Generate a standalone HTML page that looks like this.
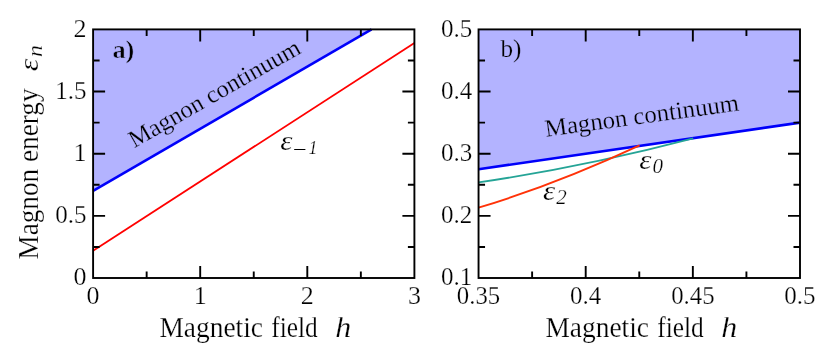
<!DOCTYPE html>
<html><head><meta charset="utf-8"><title>Magnon energy</title>
<style>
html,body{margin:0;padding:0;background:#fff;}
svg{display:block;will-change:transform;}
text{font-family:"Liberation Serif",serif;fill:#000;stroke:#fff;stroke-width:0.25px;}
.ob{stroke:#b3b3ff;}
.tk{font-size:26px;}
.lb{font-size:26px;}
.ax{font-size:30px;}
.ep{font-size:28px;font-style:italic;}
.an{font-size:24.5px;}
.it{font-style:italic;}
.bd{font-weight:bold;font-size:24.5px;}
.sb{font-size:20px;}
</style></head><body>
<svg width="830" height="355" viewBox="0 0 830 355">
<rect width="830" height="355" fill="#fff"/>
<path d="M93.1 190.99L371.56 29.4L93.1 29.4Z" fill="#b3b3ff"/>
<path d="M93.1 190.99L371.56 29.4" stroke="#0000fa" stroke-width="2.6" fill="none"/>
<path d="M93.1 250.65L414.4 43.07" stroke="#ff0000" stroke-width="1.8" fill="none"/>
<path d="M200.20 278.0v-12M200.20 29.4v12M307.30 278.0v-12M307.30 29.4v12M146.65 278.0v-6.5M146.65 29.4v6.5M253.75 278.0v-6.5M253.75 29.4v6.5M360.85 278.0v-6.5M360.85 29.4v6.5M93.1 215.85h12M414.4 215.85h-12M93.1 153.70h12M414.4 153.70h-12M93.1 91.55h12M414.4 91.55h-12M93.1 246.93h6.5M414.4 246.93h-6.5M93.1 184.78h6.5M414.4 184.78h-6.5M93.1 122.62h6.5M414.4 122.62h-6.5M93.1 60.47h6.5M414.4 60.47h-6.5" stroke="#000" stroke-width="1.9" fill="none"/>
<rect x="93.1" y="29.4" width="321.29999999999995" height="248.6" fill="none" stroke="#000" stroke-width="1.9"/>
<text class="tk" x="86.5" y="285.40" text-anchor="end">0</text>
<text class="tk" x="86.5" y="223.25" text-anchor="end" textLength="31.3" lengthAdjust="spacingAndGlyphs">0.5</text>
<text class="tk" x="86.5" y="161.10" text-anchor="end">1</text>
<text class="tk" x="86.5" y="98.95" text-anchor="end" textLength="31.3" lengthAdjust="spacingAndGlyphs">1.5</text>
<text class="tk" x="86.5" y="36.80" text-anchor="end">2</text>
<text class="tk" x="93.10" y="303.5" text-anchor="middle">0</text>
<text class="tk" x="200.20" y="303.5" text-anchor="middle">1</text>
<text class="tk" x="307.30" y="303.5" text-anchor="middle">2</text>
<text class="tk" x="414.40" y="303.5" text-anchor="middle">3</text>
<text class="ax" x="159.5" y="336.5" textLength="103.5" lengthAdjust="spacingAndGlyphs">Magnetic</text>
<text class="ax" x="271.3" y="336.5" textLength="46.5" lengthAdjust="spacingAndGlyphs">field</text>
<text class="lb it" x="335.3" y="336.5" textLength="16" style="font-size:29px" lengthAdjust="spacingAndGlyphs">h</text>
<text class="ax" transform="translate(37.7,259.5) rotate(-90)" textLength="171" lengthAdjust="spacingAndGlyphs">Magnon energy</text>
<text class="ep" transform="translate(37.7,71.3) rotate(-90)" textLength="12.5" lengthAdjust="spacingAndGlyphs">ε</text>
<text class="sb it" transform="translate(41.6,57) rotate(-90)" textLength="12" lengthAdjust="spacingAndGlyphs">n</text>
<text class="bd ob" x="112.4" y="57.5" textLength="22" style="stroke-width:.5px" lengthAdjust="spacingAndGlyphs">a)</text>
<text class="an ob" transform="translate(134.2,148.3) rotate(-29.7)" textLength="193.5" lengthAdjust="spacingAndGlyphs">Magnon continuum</text>
<text class="ep" x="280.3" y="150" textLength="12.2" lengthAdjust="spacingAndGlyphs">ε</text>
<path d="M294.2 149.5H305.4" stroke="#000" stroke-width="1" fill="none"/>
<text class="sb it" x="308.5" y="154" style="font-size:18px">1</text>
<path d="M478.55 169.24L800 122.63L800 29.4L478.55 29.4Z" fill="#b3b3ff"/>
<path d="M478.55 169.24L800 122.63" stroke="#0000fa" stroke-width="2.6" fill="none"/>
<path d="M478.55 182.4Q585 166.6 693.2 138.3" stroke="#25a496" stroke-width="1.8" fill="none"/>
<path d="M478.55 207.7Q556.7 184.2 639.6 145.4" stroke="#ff3208" stroke-width="1.9" fill="none"/>
<path d="M585.70 278.0v-12M585.70 29.4v12M692.85 278.0v-12M692.85 29.4v12M532.12 278.0v-6.5M532.12 29.4v6.5M639.27 278.0v-6.5M639.27 29.4v6.5M746.42 278.0v-6.5M746.42 29.4v6.5M478.55 215.85h12M800 215.85h-12M478.55 153.70h12M800 153.70h-12M478.55 91.55h12M800 91.55h-12M478.55 246.93h6.5M800 246.93h-6.5M478.55 184.78h6.5M800 184.78h-6.5M478.55 122.63h6.5M800 122.63h-6.5M478.55 60.48h6.5M800 60.48h-6.5" stroke="#000" stroke-width="1.9" fill="none"/>
<rect x="478.55" y="29.4" width="321.45" height="248.6" fill="none" stroke="#000" stroke-width="1.9"/>
<text class="tk" x="472.3" y="285.40" text-anchor="end" textLength="31.3" lengthAdjust="spacingAndGlyphs">0.1</text>
<text class="tk" x="472.3" y="223.25" text-anchor="end" textLength="31.3" lengthAdjust="spacingAndGlyphs">0.2</text>
<text class="tk" x="472.3" y="161.10" text-anchor="end" textLength="31.3" lengthAdjust="spacingAndGlyphs">0.3</text>
<text class="tk" x="472.3" y="98.95" text-anchor="end" textLength="31.3" lengthAdjust="spacingAndGlyphs">0.4</text>
<text class="tk" x="472.3" y="36.80" text-anchor="end" textLength="31.3" lengthAdjust="spacingAndGlyphs">0.5</text>
<text class="tk" x="478.55" y="303.5" text-anchor="middle" textLength="43.4" lengthAdjust="spacingAndGlyphs">0.35</text>
<text class="tk" x="585.70" y="303.5" text-anchor="middle" textLength="31.3" lengthAdjust="spacingAndGlyphs">0.4</text>
<text class="tk" x="692.85" y="303.5" text-anchor="middle" textLength="43.4" lengthAdjust="spacingAndGlyphs">0.45</text>
<text class="tk" x="800.00" y="303.5" text-anchor="middle" textLength="31.3" lengthAdjust="spacingAndGlyphs">0.5</text>
<text class="ax" x="545.5" y="336.5" textLength="103.5" lengthAdjust="spacingAndGlyphs">Magnetic</text>
<text class="ax" x="657.3" y="336.5" textLength="46.5" lengthAdjust="spacingAndGlyphs">field</text>
<text class="lb it" x="721.3" y="336.5" textLength="16" style="font-size:29px" lengthAdjust="spacingAndGlyphs">h</text>
<text class="lb ob" x="500.5" y="57.3" textLength="21" lengthAdjust="spacingAndGlyphs">b)</text>
<text class="an ob" transform="translate(546,136.7) rotate(-7.7)" textLength="195.5" lengthAdjust="spacingAndGlyphs">Magnon continuum</text>
<text class="ep" x="639.3" y="169.3" textLength="12.2" lengthAdjust="spacingAndGlyphs">ε</text>
<text class="sb it" x="652.6" y="173.3" textLength="10.5" lengthAdjust="spacingAndGlyphs">0</text>
<text class="ep" x="543" y="200" textLength="12.2" lengthAdjust="spacingAndGlyphs">ε</text>
<text class="sb it" x="556.3" y="204" textLength="10.5" lengthAdjust="spacingAndGlyphs">2</text>
</svg></body></html>
